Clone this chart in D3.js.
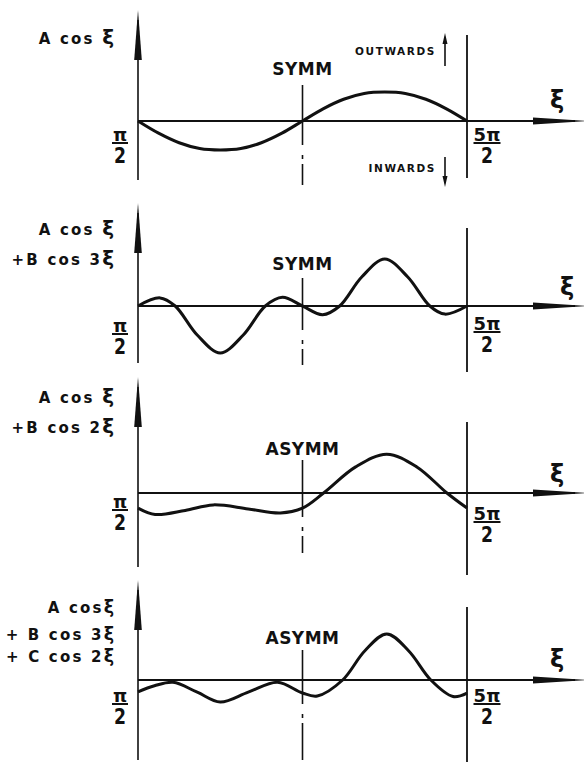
<!DOCTYPE html>
<html>
<head>
<meta charset="utf-8">
<script src="https://cdn.jsdelivr.net/npm/d3@7"></script>
<style>
  body { margin: 0; background: #fff; }
  svg { display: block; }
  text { font-family: "DejaVu Sans", sans-serif; font-weight: bold; fill: #111; }
</style>
</head>
<body>
<svg id="chart"></svg>
<script>
// xi is given in multiples of pi, w is the deflection (A = 1)
const xiTicks = [0.5, 2.5];
const tickLabels = [["π", "2"], ["5π", "2"]];
const midXi = 1.5;
const panelTitles = ["SYMM", "SYMM", "ASYMM", "ASYMM"];
const panelFormulas = [
  [["A cos ", "ξ"]],
  [["A cos ", "ξ"], ["+B cos 3", "ξ"]],
  [["A cos ", "ξ"], ["+B cos 2", "ξ"]],
  [["A cos", "ξ"], ["+ B cos 3", "ξ"], ["+ C cos 2", "ξ"]]
];

const xi1 = [0.5, 0.625, 0.75, 0.875, 1, 1.125, 1.25, 1.375, 1.5, 1.625, 1.75, 1.875, 2, 2.125, 2.25, 2.375, 2.5];
const w1  = [0, -0.42, -0.75, -0.95, -1, -0.95, -0.75, -0.42, 0, 0.42, 0.75, 0.95, 1, 0.95, 0.75, 0.42, 0];

const xi2 = [0.5, 0.634, 0.726, 0.86, 1.0, 1.14, 1.274, 1.378, 1.5, 1.622, 1.726, 1.86, 2.0, 2.14, 2.274, 2.366, 2.5];
const w2  = [0, 0.28, 0, -1.0, -1.62, -1.0, 0, 0.3, 0, -0.3, 0, 1.0, 1.62, 1.0, 0, -0.28, 0];

const xi3 = [0.5, 0.604, 0.787, 0.957, 1.17, 1.366, 1.5, 1.628, 1.823, 2.012, 2.195, 2.378, 2.5];
const w3  = [-0.52, -0.74, -0.6, -0.41, -0.55, -0.69, -0.52, 0, 0.9, 1.34, 0.9, 0, -0.52];

const xi4 = [0.5, 0.6, 0.713, 0.86, 1.0, 1.17, 1.348, 1.5, 1.59, 1.744, 1.878, 2.012, 2.146, 2.28, 2.415, 2.5];
const w4  = [-0.41, -0.2, -0.08, -0.42, -0.76, -0.42, -0.08, -0.45, -0.55, 0, 1.0, 1.59, 1.0, 0, -0.57, -0.45];

const series = [
  d3.zip(xi1, w1), d3.zip(xi2, w2), d3.zip(xi3, w3), d3.zip(xi4, w4)
];

const width = 584, height = 762;
const unit = 29; // px per unit of deflection

// per panel layout
const panels = [
  { base: 121, axTop: 10, axBot: 180, midTop: 85, midBot: 185, rTop: 35, rBot: 178, titleDy: -46,
    lines: [44], xiSize: 20, lBar: 22, rBar: 22, xiDy: -13, xiX: 557 },
  { base: 306, axTop: 203, axBot: 363, midTop: 278, midBot: 365, rTop: 228, rBot: 372, titleDy: -36,
    lines: [235, 265], xiSize: 20, lBar: 28, rBar: 26, xiDy: -11, xiX: 567 },
  { base: 493, axTop: 377, axBot: 567, midTop: 460, midBot: 553, rTop: 422, rBot: 575, titleDy: -38,
    lines: [403, 433], xiSize: 20, lBar: 17, rBar: 29, xiDy: -11, xiX: 557 },
  { base: 680, axTop: 580, axBot: 760, midTop: 650, midBot: 760, rTop: 607, rBot: 762, titleDy: -36,
    lines: [613, 640, 662], xiSize: 17.5, lBar: 24, rBar: 24, xiDy: -13, xiX: 557 }
];

const svg = d3.select("#chart").attr("width", width).attr("height", height);

const x = d3.scaleLinear().domain([0.5, 2.5]).range([138, 467]);

panels.forEach((p, i) => {
  const g = svg.append("g");
  const y = d3.scaleLinear().domain([-1, 1]).range([p.base + unit, p.base - unit]);
  const x0 = x(xiTicks[0]);

  // horizontal xi axis with arrow
  g.append("line")
    .attr("x1", x0).attr("x2", 575)
    .attr("y1", y(0)).attr("y2", y(0))
    .attr("stroke", "#111").attr("stroke-width", 2);
  g.append("path")
    .attr("d", `M533,${y(0) - 3.5} L586,${y(0)} L533,${y(0) + 3.5} Z`)
    .attr("fill", "#111");
  g.append("text")
    .attr("x", p.xiX).attr("y", y(0) + p.xiDy)
    .attr("text-anchor", "middle")
    .attr("font-size", 24)
    .text("ξ");

  // vertical deflection axis with arrow
  g.append("line")
    .attr("x1", x0).attr("x2", x0)
    .attr("y1", p.axTop + 10).attr("y2", p.axBot)
    .attr("stroke", "#111").attr("stroke-width", 1.6);
  g.append("path")
    .attr("d", `M${x0},${p.axTop} L${x0 + 3.8},${p.axTop + 50} L${x0 - 3.8},${p.axTop + 50} Z`)
    .attr("fill", "#111");

  // symmetry line: solid above, dash-dot below
  const xm = x(midXi);
  g.append("line")
    .attr("x1", xm).attr("x2", xm)
    .attr("y1", p.midTop).attr("y2", y(0) + 24)
    .attr("stroke", "#111").attr("stroke-width", 1.6);
  g.append("line")
    .attr("x1", xm).attr("x2", xm)
    .attr("y1", y(0) + 34).attr("y2", p.midBot)
    .attr("stroke", "#111").attr("stroke-width", 1.6)
    .attr("stroke-dasharray", "4 5 40");

  // end line at 5pi/2
  const xr = x(xiTicks[1]);
  g.append("line")
    .attr("x1", xr).attr("x2", xr)
    .attr("y1", p.rTop).attr("y2", p.rBot)
    .attr("stroke", "#111").attr("stroke-width", 1.8);

  // title
  g.append("text")
    .attr("x", xm).attr("y", y(0) + p.titleDy)
    .attr("text-anchor", "middle")
    .attr("font-size", 17)
    .attr("letter-spacing", 0.5)
    .text(panelTitles[i]);

  // formula lines
  panelFormulas[i].forEach((ln, j) => {
    const t = g.append("text")
      .attr("x", 114).attr("y", p.lines[j])
      .attr("text-anchor", "end")
      .attr("font-size", 15)
      .attr("letter-spacing", 2.2);
    t.append("tspan").text(ln[0]);
    t.append("tspan").attr("font-size", p.xiSize).attr("letter-spacing", 0).text(ln[1]);
  });

  // fraction tick labels
  const fracs = [
    { cx: 120, bar: p.lBar, w: 16, lab: tickLabels[0] },
    { cx: 487, bar: p.rBar, w: 27, lab: tickLabels[1] }
  ];
  fracs.forEach(f => {
    const by = y(0) + f.bar;
    g.append("line")
      .attr("x1", f.cx - f.w / 2).attr("x2", f.cx + f.w / 2)
      .attr("y1", by).attr("y2", by)
      .attr("stroke", "#111").attr("stroke-width", 2);
    g.append("text")
      .attr("x", f.cx).attr("y", by - 2.5)
      .attr("text-anchor", "middle")
      .attr("font-size", 18)
      .text(f.lab[0]);
    g.append("text")
      .attr("x", f.cx).attr("y", by + 20)
      .attr("text-anchor", "middle")
      .attr("font-size", 22)
      .attr("textLength", 12).attr("lengthAdjust", "spacingAndGlyphs")
      .text(f.lab[1]);
  });

  // curve
  const line = d3.line()
    .x(d => x(d[0]))
    .y(d => y(d[1]))
    .curve(d3.curveCatmullRom.alpha(0.5));
  g.append("path")
    .datum(series[i])
    .attr("d", line)
    .attr("fill", "none")
    .attr("stroke", "#111")
    .attr("stroke-width", 3)
    .attr("stroke-linejoin", "round");

  // outwards / inwards markers on first panel
  if (i === 0) {
    const ax = 445;
    g.append("text").attr("x", 436).attr("y", 55)
      .attr("text-anchor", "end").attr("font-size", 10.5).attr("letter-spacing", 1.6)
      .text("OUTWARDS");
    g.append("line").attr("x1", ax).attr("x2", ax).attr("y1", 40).attr("y2", 66)
      .attr("stroke", "#111").attr("stroke-width", 1.6);
    g.append("path").attr("d", `M${ax},33 L${ax + 2.5},44 L${ax - 2.5},44 Z`).attr("fill", "#111");
    g.append("text").attr("x", 436).attr("y", 172)
      .attr("text-anchor", "end").attr("font-size", 10.5).attr("letter-spacing", 1.6)
      .text("INWARDS");
    g.append("line").attr("x1", ax).attr("x2", ax).attr("y1", 157).attr("y2", 180)
      .attr("stroke", "#111").attr("stroke-width", 1.6);
    g.append("path").attr("d", `M${ax},187 L${ax + 2.5},176 L${ax - 2.5},176 Z`).attr("fill", "#111");
  }
});
</script>
</body>
</html>
